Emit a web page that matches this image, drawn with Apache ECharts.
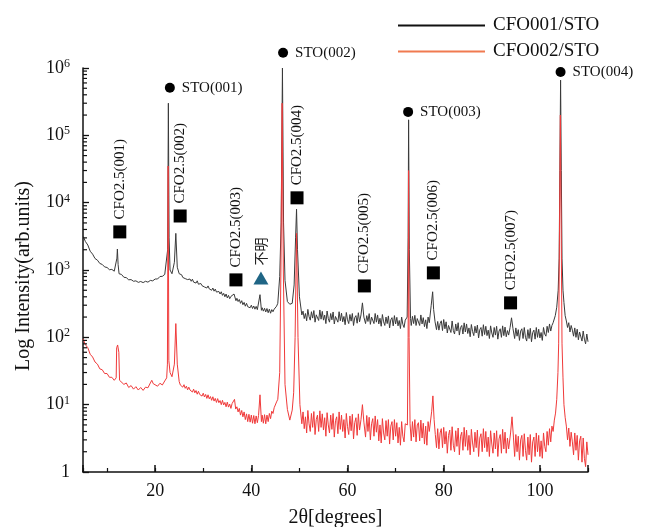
<!DOCTYPE html>
<html>
<head>
<meta charset="utf-8">
<title>XRD</title>
<script src="https://cdn.jsdelivr.net/npm/echarts@6/dist/echarts.min.js"></script>
<style>
  html, body { margin: 0; padding: 0; background: #fff; }
  #box { width: 646px; height: 527px; }
</style>
</head>
<body>
<div id="box"></div>
<script>
// 2θ / intensity
var cfo001 = [
  [5, 3200], [5.5, 2650], [6, 2350], [6.5, 1900], [7, 1720], [7.5, 1480], [8, 1400], [8.5, 1250], [9, 1210], [9.5, 1110],
  [10, 1090], [10.5, 1010], [11, 1020], [11.5, 960], [11.9, 980], [12.05, 1500], [12.15, 2050], [12.3, 1200], [12.5, 880], [13, 860],
  [13.5, 780], [14, 770], [14.5, 715], [15, 720], [15.5, 680], [16, 690], [16.5, 655], [17, 675], [17.5, 650], [18, 680],
  [18.5, 660], [19, 700], [19.5, 690], [20, 735], [20.5, 735], [21, 800], [21.5, 805], [22, 860], [22.4, 890], [22.6, 2000],
  [22.75, 300000], [22.9, 3000], [23.1, 1000], [23.5, 880], [24, 1300], [24.3, 3500], [24.6, 1100],
  [25, 880], [25.25, 830], [25.5, 850], [25.75, 775], [26, 815], [26.25, 745], [26.5, 790], [26.75, 720], [27, 760], [27.25, 735],
  [27.5, 680], [27.75, 730], [28, 660], [28.25, 705], [28.5, 640], [28.75, 690], [29, 615], [29.25, 650], [29.5, 630], [29.75, 585],
  [30, 625], [30.25, 560], [30.5, 595], [30.75, 540], [31, 580], [31.25, 525], [31.5, 550], [31.75, 500], [32, 540], [32.25, 485],
  [32.5, 520], [32.75, 470], [33, 495], [33.25, 480], [33.5, 440], [33.75, 475], [34, 420], [34.25, 450], [34.5, 400], [34.75, 440],
  [35, 385], [35.25, 420], [35.5, 375], [35.75, 405], [36, 380], [36.4, 440], [36.8, 350], [37, 380], [37.25, 340], [37.5, 365],
  [37.75, 320], [38, 350], [38.25, 305], [38.5, 330], [38.75, 290], [39, 320], [39.25, 285], [39.5, 305], [39.75, 275], [40, 300],
  [40.25, 268], [40.5, 292], [40.75, 262], [41, 288], [41.25, 258], [41.5, 275], [41.8, 430], [42.1, 252], [42.25, 275], [42.5, 245],
  [42.75, 270], [43, 238], [43.25, 268], [43.5, 232], [43.75, 262], [44, 228], [44.25, 258], [44.5, 240], [44.75, 262], [45, 255],
  [45.25, 290], [45.5, 320], [45.9, 800], [46.2, 5000], [46.47, 1000000], [46.7, 5000], [47, 700], [47.5, 340], [48, 310], [48.5, 320],
  [48.9, 600], [49.2, 3000], [49.4, 8000], [49.6, 2000], [50, 400],
  [50.5, 215], [50.75, 245], [51, 190], [51.25, 226], [51.5, 176], [51.75, 260], [52, 203], [52.25, 180], [52.5, 240], [52.75, 193],
  [53, 250], [53.25, 168], [53.5, 216], [53.75, 230], [54, 178], [54.25, 255], [54.5, 186], [54.75, 243], [55, 180], [55.25, 214],
  [55.5, 160], [55.75, 246], [56, 190], [56.25, 168], [56.5, 226], [56.75, 182], [57, 238], [57.25, 158], [57.5, 204], [57.75, 218],
  [58, 168], [58.25, 240], [58.5, 176], [58.75, 228], [59, 170], [59.25, 204], [59.5, 154], [59.75, 234], [60, 182], [60.25, 160],
  [60.5, 218], [60.75, 174], [61, 226], [61.25, 150], [61.5, 196], [61.75, 210], [62, 162], [62.25, 232], [62.5, 170], [62.8, 215],
  [63.1, 325], [63.4, 200], [63.75, 160], [64, 210], [64.25, 172], [64.5, 225], [64.75, 156], [65, 200], [65.25, 214], [65.5, 160],
  [65.75, 226], [66, 168], [66.25, 215], [66.5, 158], [66.75, 192], [67, 146], [67.25, 218], [67.5, 170], [67.75, 150], [68, 200],
  [68.25, 160], [68.5, 208], [68.75, 138], [69, 182], [69.25, 196], [69.5, 148], [69.75, 210], [70, 158], [70.25, 198], [70.5, 148],
  [70.75, 178], [71, 135], [71.25, 200], [71.5, 156], [71.75, 140], [72, 180], [72.4, 200], [72.6, 3000], [72.7, 170000], [72.85, 2000],
  [73.1, 190], [73.25, 150], [73.5, 205], [73.75, 160], [74, 212], [74.25, 150], [74.5, 190], [74.75, 200], [75, 150], [75.25, 215],
  [75.5, 158], [75.75, 196], [76, 144], [76.25, 182], [76.5, 135], [76.75, 200], [77, 165], [77.4, 300], [77.7, 475], [77.9, 260],
  [78.2, 170], [78.5, 130], [78.75, 172], [79, 128], [79.25, 160], [79.5, 176], [79.75, 126], [80, 184], [80.25, 134], [80.5, 170],
  [80.75, 116], [81, 150], [81.25, 160], [81.5, 118], [81.75, 175], [82, 126], [82.25, 112], [82.5, 158], [82.75, 124], [83, 165],
  [83.25, 108], [83.5, 140], [83.75, 150], [84, 112], [84.25, 164], [84.5, 120], [84.75, 158], [85, 114], [85.25, 138], [85.5, 102],
  [85.75, 155], [86, 122], [86.25, 106], [86.5, 146], [86.75, 116], [87, 152], [87.25, 98], [87.5, 130], [87.75, 140], [88, 104],
  [88.25, 154], [88.5, 110], [88.75, 146], [89, 106], [89.25, 128], [89.5, 96], [89.75, 148], [90, 116], [90.25, 100], [90.5, 140],
  [90.75, 108], [91, 146], [91.25, 94], [91.5, 124], [91.75, 134], [92, 100], [92.25, 148], [92.5, 106], [92.75, 142], [93, 102],
  [93.25, 126], [93.5, 108], [93.8, 140], [94.1, 195], [94.4, 135], [94.75, 96], [95, 138], [95.25, 104], [95.5, 130], [95.75, 90],
  [96, 124], [96.25, 134], [96.5, 96], [96.75, 140], [97, 100], [97.25, 88], [97.5, 130], [97.75, 96], [98, 136], [98.25, 86],
  [98.5, 118], [98.75, 128], [99, 94], [99.25, 140], [99.5, 100], [99.75, 132], [100, 98], [100.25, 118], [100.5, 90], [100.75, 140],
  [101, 112], [101.25, 104], [101.5, 146], [101.75, 118], [102, 158], [102.25, 124], [102.5, 150], [102.75, 165], [102.9, 170], [103.2, 210],
  [103.5, 280], [103.8, 500], [104, 1500], [104.15, 30000], [104.3, 660000], [104.45, 30000], [104.6, 1500], [104.8, 500], [105, 330], [105.25, 210],
  [105.5, 175], [105.75, 140], [106, 165], [106.25, 120], [106.5, 150], [106.75, 128], [107, 104], [107.25, 138], [107.5, 100], [107.75, 132],
  [108, 92], [108.25, 120], [108.5, 128], [108.75, 88], [109, 124], [109.25, 94], [109.5, 80], [109.75, 112], [110, 86]
]

var cfo002 = [
  [5, 95], [5.5, 78], [6, 70], [6.5, 56], [7, 51], [7.5, 43], [8, 40], [8.5, 34], [9, 33], [9.5, 29],
  [10, 29], [10.5, 25.5], [11, 25.5], [11.5, 23], [11.9, 25], [12, 70], [12.2, 77], [12.45, 60], [12.6, 23], [13, 24],
  [13.5, 20], [14, 21], [14.5, 18], [15, 19.2], [15.5, 17], [16, 18.5], [16.5, 16.5], [17, 18], [17.5, 16.3], [18, 18.2],
  [18.5, 17.8], [19, 21], [19.3, 23], [19.6, 20.5], [20, 20.8], [20.5, 18.8], [21, 20.8], [21.5, 19.6], [22, 22.5], [22.4, 25],
  [22.55, 40], [22.7, 35000], [22.85, 45], [23.1, 30], [23.5, 26], [24, 40], [24.3, 160], [24.6, 40],
  [25, 22], [25.25, 19.5], [25.5, 20.5], [25.75, 18.2], [26, 19.8], [26.25, 17.5], [26.5, 18.8], [26.75, 16.6], [27, 18.2], [27.25, 16.5],
  [27.5, 17.4], [27.75, 15.4], [28, 17], [28.25, 15], [28.5, 16.2], [28.75, 14.3], [29, 15.8], [29.25, 14.2], [29.5, 15], [29.75, 13.4],
  [30, 14.8], [30.25, 13], [30.5, 14.2], [30.75, 12.4], [31, 14], [31.25, 12.2], [31.5, 13.2], [31.75, 11.6], [32, 13.1], [32.25, 11.3],
  [32.5, 12.4], [32.75, 10.8], [33, 12.3], [33.25, 10.7], [33.5, 11.5], [33.75, 10], [34, 11.6], [34.25, 9.9], [34.5, 10.8], [34.75, 9.3],
  [35, 10.9], [35.25, 9.2], [35.5, 10.2], [35.75, 8.8], [36, 10.4], [36.5, 12], [36.75, 8.6], [37, 9.3], [37.25, 7.8], [37.5, 8.8],
  [37.75, 7], [38, 8.2], [38.25, 6.6], [38.5, 7.8], [38.75, 6], [39, 7.3], [39.25, 5.6], [39.5, 7.2], [39.75, 5.5], [40, 7],
  [40.25, 5.3], [40.5, 6.9], [40.75, 5.2], [41, 6.8], [41.25, 5.4], [41.5, 6.9], [41.8, 14], [42.1, 5.6], [42.25, 7], [42.5, 5.3],
  [42.75, 7.1], [43, 5.2], [43.25, 7], [43.5, 5.6], [43.75, 7.4], [44, 6.2], [44.25, 8], [44.5, 7.4], [44.75, 9], [45, 9.5],
  [45.25, 11], [45.5, 12], [45.9, 30], [46.15, 1000], [46.4, 300000], [46.65, 1000], [47, 20], [47.5, 8.5], [48, 5.9], [48.5, 8.3],
  [48.8, 15], [49.1, 100], [49.4, 3500], [49.7, 100], [50.1, 10],
  [50.5, 5.2], [50.75, 7.8], [51, 4.4], [51.25, 6.6], [51.5, 3.8], [51.75, 8.2], [52, 5.2], [52.25, 4.0], [52.5, 7.4], [52.75, 4.6],
  [53, 7.9], [53.25, 3.6], [53.5, 6.0], [53.75, 7.0], [54, 4.0], [54.25, 8.1], [54.5, 4.6], [54.75, 7.3], [55, 4.2], [55.25, 6.4],
  [55.5, 3.4], [55.75, 7.6], [56, 5.0], [56.25, 3.8], [56.5, 7.0], [56.75, 4.3], [57, 7.4], [57.25, 3.3], [57.5, 5.8], [57.75, 6.6],
  [58, 3.7], [58.25, 7.8], [58.5, 4.3], [58.75, 7.0], [59, 4.0], [59.25, 6.0], [59.5, 3.2], [59.75, 7.4], [60, 4.7], [60.25, 3.6],
  [60.5, 6.8], [60.75, 4.1], [61, 7.2], [61.25, 3.1], [61.5, 5.4], [61.75, 6.4], [62, 3.5], [62.25, 7.3], [62.5, 4.2], [62.8, 6],
  [63.1, 10], [63.4, 5.5], [63.75, 3.3], [64, 6.9], [64.25, 4.0], [64.5, 6.5], [64.75, 3.0], [65, 5.2], [65.25, 6.2], [65.5, 3.4],
  [65.75, 6.8], [66, 3.9], [66.25, 6.0], [66.5, 2.9], [66.75, 5.0], [67, 2.7], [67.25, 6.2], [67.5, 3.8], [67.75, 3.0], [68, 5.8],
  [68.25, 3.4], [68.5, 6.0], [68.75, 2.6], [69, 4.8], [69.25, 5.6], [69.5, 3.0], [69.75, 6.0], [70, 3.4], [70.25, 5.4], [70.5, 2.7],
  [70.75, 4.6], [71, 2.5], [71.25, 5.6], [71.5, 3.4], [71.75, 2.8], [72, 5.2], [72.45, 5], [72.6, 100], [72.7, 30000], [72.8, 100],
  [73, 5.2], [73.25, 2.9], [73.5, 5.6], [73.75, 3.3], [74, 6.0], [74.25, 2.8], [74.5, 5.0], [74.75, 5.4], [75, 2.9], [75.25, 5.9],
  [75.5, 3.2], [75.75, 5.3], [76, 2.6], [76.25, 4.8], [76.5, 2.5], [76.75, 5.6], [77, 4.0], [77.5, 8], [77.75, 13.5], [78, 6],
  [78.25, 3.6], [78.5, 2.3], [78.75, 4.4], [79, 2.2], [79.25, 3.8], [79.5, 4.4], [79.75, 2.3], [80, 4.6], [80.25, 2.6], [80.5, 4.0],
  [80.75, 1.9], [81, 3.5], [81.25, 4.2], [81.5, 2.1], [81.75, 4.7], [82, 2.5], [82.25, 2.0], [82.5, 4.1], [82.75, 2.4], [83, 4.5],
  [83.25, 1.8], [83.5, 3.4], [83.75, 3.9], [84, 2.1], [84.25, 4.6], [84.5, 2.4], [84.75, 4.2], [85, 2.1], [85.25, 3.5], [85.5, 1.8],
  [85.75, 4.3], [86, 2.7], [86.25, 2.0], [86.5, 3.9], [86.75, 2.3], [87, 4.2], [87.25, 1.7], [87.5, 3.2], [87.75, 3.7], [88, 2.0],
  [88.25, 4.4], [88.5, 2.3], [88.75, 4.0], [89, 2.0], [89.25, 3.3], [89.5, 1.7], [89.75, 4.1], [90, 2.6], [90.25, 1.9], [90.5, 3.8],
  [90.75, 2.2], [91, 4.1], [91.25, 1.7], [91.5, 3.1], [91.75, 3.6], [92, 1.9], [92.25, 4.3], [92.5, 2.2], [92.75, 3.9], [93, 1.9],
  [93.25, 3.2], [93.5, 2.2], [93.9, 3.8], [94.2, 6.6], [94.5, 3.3], [94.75, 1.7], [95, 3.6], [95.25, 2.0], [95.5, 3.4], [95.75, 1.5],
  [96, 3.0], [96.25, 3.5], [96.5, 1.7], [96.75, 3.7], [97, 2.1], [97.25, 1.5], [97.5, 3.3], [97.75, 1.8], [98, 3.6], [98.25, 1.4],
  [98.5, 2.8], [98.75, 3.3], [99, 1.7], [99.25, 3.8], [99.5, 2.0], [99.75, 3.5], [100, 1.7], [100.25, 2.9], [100.5, 1.6], [100.75, 3.8],
  [101, 2.4], [101.25, 2.0], [101.5, 4.0], [101.75, 2.5], [102, 4.4], [102.25, 2.8], [102.5, 4.8], [102.75, 4.0], [103, 5.9], [103.25, 7.5],
  [103.5, 12], [103.75, 30], [103.9, 80], [104.25, 200000], [104.6, 80], [104.8, 25], [105, 10], [105.25, 6.5], [105.5, 4.8], [105.75, 3.0],
  [106, 4.5], [106.25, 2.4], [106.5, 3.9], [106.75, 2.8], [107, 1.8], [107.25, 3.8], [107.5, 2.1], [107.75, 3.5], [108, 1.5], [108.25, 2.9],
  [108.5, 3.4], [108.75, 1.4], [109, 3.2], [109.25, 1.6], [109.5, 1.2], [109.75, 2.8], [110, 1.8]
]

// peak markers
var stoNames = ['STO(001)', 'STO(002)', 'STO(003)', 'STO(004)']
var stoX = [23.06, 46.6, 72.6, 104.3]
var stoY = [5.1e5, 1.68e6, 2.23e5, 8.7e5]

var cfoNames = ['CFO2.5(001)', 'CFO2.5(002)', 'CFO2.5(003)', 'CFO2.5(004)', 'CFO2.5(005)', 'CFO2.5(006)', 'CFO2.5(007)']
var cfoX = [12.65, 25.2, 36.8, 49.5, 63.5, 77.85, 93.9]
var cfoY = [3680, 6340, 713, 11800, 580, 906, 325]

var unkName = '不明'
var unkX = 42.0
var unkY = 760

// y ticks: decades and minor mantissas
var decades = [0, 1, 2, 3, 4, 5]
var mantissas = [2, 3, 4, 5, 6, 7, 8, 9]

var serif = 'Liberation Serif'
var chart = echarts.init(document.getElementById('box'))

var minorTicks = []
decades.forEach(function (d) {
  mantissas.forEach(function (m) {
    minorTicks.push([5, m * Math.pow(10, d)])
  })
})

function zipPts(xs, ys, names) {
  return xs.map(function (x, i) { return { name: names ? names[i] : '', value: [x, ys[i]] } })
}

var option = {
  animation: false,
  backgroundColor: '#fff',
  legend: {
    orient: 'vertical',
    left: 393,
    top: 11,
    itemWidth: 87,
    itemHeight: 2,
    itemGap: 7,
    icon: 'rect',
    textStyle: { fontFamily: serif, fontSize: 19, color: '#111', padding: [0, 0, 0, 3] },
    data: [
      { name: 'CFO001/STO', itemStyle: { color: '#111' } },
      { name: 'CFO002/STO', itemStyle: { color: '#f07a50' } }
    ]
  },
  grid: { left: 83, right: 58, top: 68, bottom: 55, outerBoundsMode: 'none', containLabel: false },
  xAxis: [
    {
      type: 'value',
      min: 5,
      max: 110,
      splitNumber: 5,
      name: '2θ[degrees]',
      nameLocation: 'middle',
      nameGap: 36,
      nameTextStyle: { fontFamily: serif, fontSize: 20, color: '#111' },
      axisLine: { lineStyle: { color: '#111', width: 1.5 } },
      axisTick: { inside: true, length: 7, lineStyle: { color: '#111', width: 1.5 } },
      axisLabel: {
        fontFamily: serif, fontSize: 18, color: '#111', margin: 10,
        formatter: function (v) { return v % 20 === 0 ? v : '' }
      },
      splitLine: { show: false }
    },
    {
      type: 'value',
      min: 5,
      max: 110,
      splitNumber: 10,
      position: 'bottom',
      axisLine: { show: false },
      axisTick: { inside: true, length: 4, lineStyle: { color: '#111', width: 1.2 } },
      axisLabel: { show: false },
      splitLine: { show: false }
    }
  ],
  yAxis: {
    type: 'log',
    logBase: 10,
    min: 1,
    max: 1e6,
    name: 'Log Intensity(arb.units)',
    nameLocation: 'middle',
    nameGap: 49,
    nameTextStyle: { fontFamily: serif, fontSize: 20, color: '#111', padding: [0, 12, 0, 0] },
    axisLine: { show: true, lineStyle: { color: '#111', width: 1.5 } },
    axisTick: { inside: true, length: 6, lineStyle: { color: '#111', width: 1.3 } },
    axisLabel: {
      margin: 13,
      color: '#111',
      formatter: function (v) {
        var e = Math.round(Math.log10(v))
        if (e === 0) return '{b|1}'
        return '{b|10}{s|' + e + '}'
      },
      rich: {
        b: { fontFamily: serif, fontSize: 18, color: '#111', lineHeight: 20 },
        s: { fontFamily: serif, fontSize: 12, color: '#111', verticalAlign: 'top', lineHeight: 12 }
      }
    },
    splitLine: { show: false }
  },
  series: [
    {
      name: 'CFO001/STO',
      type: 'line',
      data: cfo001,
      showSymbol: false,
      sampling: 'none',
      color: '#111',
      lineStyle: { color: '#3a3a3a', width: 1 },
      silent: true
    },
    {
      name: 'CFO002/STO',
      type: 'line',
      data: cfo002,
      showSymbol: false,
      sampling: 'none',
      color: '#f07a50',
      lineStyle: { color: '#f03a3a', width: 1 },
      silent: true
    },
    {
      name: 'yminor',
      type: 'scatter',
      data: minorTicks,
      symbol: 'rect',
      symbolSize: [4, 1.2],
      symbolOffset: [2, 0],
      itemStyle: { color: '#111', opacity: 1 },
      silent: true,
      z: 5
    },
    {
      name: 'sto',
      type: 'scatter',
      data: zipPts(stoX, stoY, stoNames),
      symbol: 'circle',
      symbolSize: 10,
      clip: false,
      itemStyle: { color: '#000', opacity: 1 },
      label: {
        show: true, position: 'right', distance: 7,
        formatter: '{b}', fontFamily: serif, fontSize: 15, color: '#111'
      },
      silent: true,
      z: 6
    },
    {
      name: 'cfo',
      type: 'scatter',
      data: zipPts(cfoX, cfoY, cfoNames),
      symbol: 'rect',
      symbolSize: 13,
      itemStyle: { color: '#000', opacity: 1 },
      label: {
        show: true, position: 'top', distance: 6, rotate: 90,
        align: 'left', verticalAlign: 'middle',
        formatter: '{b}', fontFamily: serif, fontSize: 15, color: '#111'
      },
      silent: true,
      z: 6
    },
    {
      name: 'unk',
      type: 'scatter',
      data: [{ name: unkName, value: [unkX, unkY] }],
      symbol: 'triangle',
      symbolSize: [15, 13],
      itemStyle: { color: '#1f6585', opacity: 1 },
      label: {
        show: true, position: 'top', distance: 6, rotate: 90,
        align: 'left', verticalAlign: 'middle',
        formatter: '{b}', fontFamily: 'Noto Sans CJK SC', fontSize: 14, color: '#222'
      },
      silent: true,
      z: 6
    }
  ]
}
chart.setOption(option)
</script>
</body>
</html>
